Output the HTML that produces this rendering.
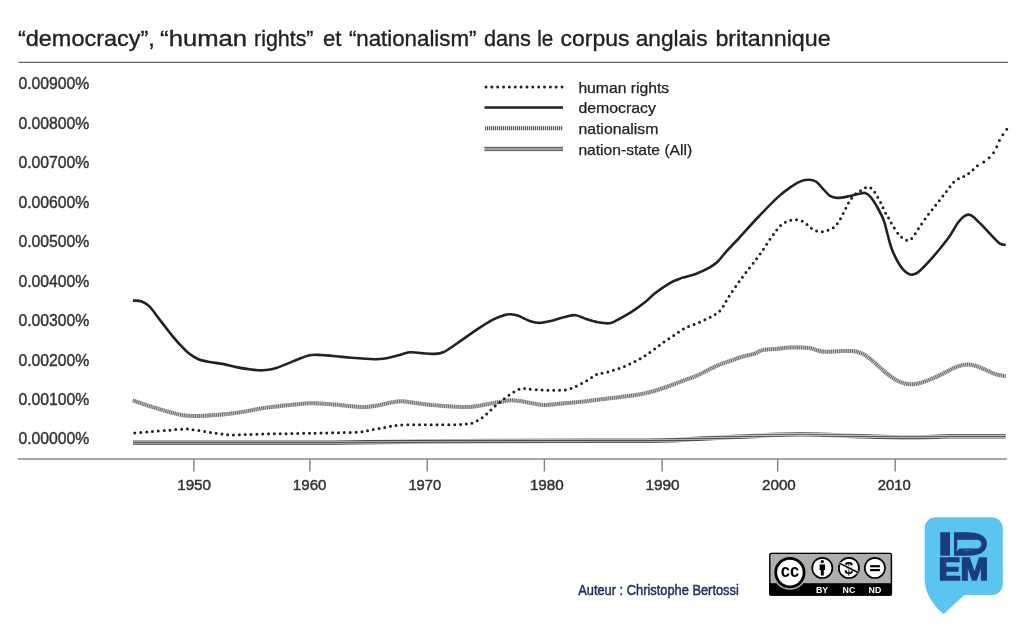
<!DOCTYPE html>
<html lang="fr"><head><meta charset="utf-8"><title>Ngram</title>
<style>
html,body{margin:0;padding:0;background:#fff;}
body{width:1023px;height:640px;overflow:hidden;font-family:"Liberation Sans",sans-serif;}
svg{display:block}
svg text{font-family:"Liberation Sans",sans-serif;}
</style></head><body>
<svg width="1023" height="640" viewBox="0 0 1023 640">
<defs><pattern id="hpat" patternUnits="userSpaceOnUse" x="0" y="1.2" width="8" height="2.1"><rect width="8" height="2.1" fill="#c4c4c4"/><rect width="8" height="1" fill="#4c4c4c"/></pattern></defs>
<rect width="1023" height="640" fill="#fff"/>
<text id="title" y="45.5" font-size="22" fill="#222" stroke="#222" stroke-width="0.35"><tspan x="18.0" textLength="136.7" lengthAdjust="spacingAndGlyphs">“democracy”,</tspan> <tspan x="160.1" textLength="86.9" lengthAdjust="spacingAndGlyphs">“human</tspan> <tspan x="254.1" textLength="59.4" lengthAdjust="spacingAndGlyphs">rights”</tspan> <tspan x="323.0" textLength="18.5" lengthAdjust="spacingAndGlyphs">et</tspan> <tspan x="348.9" textLength="127.5" lengthAdjust="spacingAndGlyphs">“nationalism”</tspan> <tspan x="483.9" textLength="47.1" lengthAdjust="spacingAndGlyphs">dans</tspan> <tspan x="537.2" textLength="16.0" lengthAdjust="spacingAndGlyphs">le</tspan> <tspan x="560.6" textLength="68.9" lengthAdjust="spacingAndGlyphs">corpus</tspan> <tspan x="635.7" textLength="71.8" lengthAdjust="spacingAndGlyphs">anglais</tspan> <tspan x="715.4" textLength="115.3" lengthAdjust="spacingAndGlyphs">britannique</tspan></text>
<line x1="18.4" y1="62.4" x2="1008" y2="62.4" stroke="#666" stroke-width="1.2"/>
<g font-size="15.6" fill="#333" stroke="#333" stroke-width="0.4" id="ylab">
<text x="18.4" y="89.2" textLength="71" lengthAdjust="spacingAndGlyphs">0.00900%</text>
<text x="18.4" y="128.7" textLength="71" lengthAdjust="spacingAndGlyphs">0.00800%</text>
<text x="18.4" y="168.1" textLength="71" lengthAdjust="spacingAndGlyphs">0.00700%</text>
<text x="18.4" y="207.6" textLength="71" lengthAdjust="spacingAndGlyphs">0.00600%</text>
<text x="18.4" y="247.1" textLength="71" lengthAdjust="spacingAndGlyphs">0.00500%</text>
<text x="18.4" y="286.6" textLength="71" lengthAdjust="spacingAndGlyphs">0.00400%</text>
<text x="18.4" y="326.0" textLength="71" lengthAdjust="spacingAndGlyphs">0.00300%</text>
<text x="18.4" y="365.5" textLength="71" lengthAdjust="spacingAndGlyphs">0.00200%</text>
<text x="18.4" y="405.0" textLength="71" lengthAdjust="spacingAndGlyphs">0.00100%</text>
<text x="18.4" y="444.4" textLength="71" lengthAdjust="spacingAndGlyphs">0.00000%</text>
</g>
<line x1="18" y1="458.9" x2="1007" y2="458.9" stroke="#8a8a8a" stroke-width="1.5"/>
<g stroke="#808080" stroke-width="1.4">
<line x1="193.9" y1="459" x2="193.9" y2="471.6" />
<line x1="309.9" y1="459" x2="309.9" y2="471.6" />
<line x1="427.2" y1="459" x2="427.2" y2="471.6" />
<line x1="544.4" y1="459" x2="544.4" y2="471.6" />
<line x1="662.1" y1="459" x2="662.1" y2="471.6" />
<line x1="777.7" y1="459" x2="777.7" y2="471.6" />
<line x1="895.2" y1="459" x2="895.2" y2="471.6" />
</g>
<g font-size="14.5" fill="#333" stroke="#333" stroke-width="0.45" id="xlab">
<text x="177.2" y="490.2" textLength="33.8" lengthAdjust="spacingAndGlyphs">1950</text>
<text x="292.8" y="490.2" textLength="33.7" lengthAdjust="spacingAndGlyphs">1960</text>
<text x="408.4" y="490.2" textLength="32.7" lengthAdjust="spacingAndGlyphs">1970</text>
<text x="529.9" y="490.2" textLength="33.9" lengthAdjust="spacingAndGlyphs">1980</text>
<text x="645.5" y="490.2" textLength="34.1" lengthAdjust="spacingAndGlyphs">1990</text>
<text x="762.0" y="490.2" textLength="33.8" lengthAdjust="spacingAndGlyphs">2000</text>
<text x="877.7" y="490.2" textLength="33.1" lengthAdjust="spacingAndGlyphs">2010</text>
</g>
<!-- series -->
<g fill="none">
<path d="M133.0,442.7C164.2,442.7 272.2,442.9 320.0,442.7C367.8,442.5 386.7,441.7 420.0,441.4C453.3,441.1 490.0,441.1 520.0,441.0C550.0,440.9 576.2,440.8 600.0,440.7C623.8,440.6 646.3,440.8 662.6,440.5C678.9,440.2 685.4,439.3 697.8,438.7C710.2,438.1 723.9,437.4 736.9,436.8C749.9,436.2 765.5,435.2 776.0,434.8C786.5,434.4 792.2,434.2 800.0,434.2C807.8,434.2 812.6,434.3 823.0,434.6C833.4,434.9 847.4,435.7 862.1,436.2C876.8,436.7 896.3,437.5 911.0,437.5C925.7,437.5 934.3,436.4 950.1,436.2C965.9,436.0 996.5,436.2 1005.8,436.2" stroke="url(#hpat)" stroke-width="4.5" transform="translate(0,0.05)"/>
<path d="M132.9,400.3C135.0,401.1 141.2,403.3 145.6,404.8C150.0,406.3 154.7,407.7 159.3,409.1C163.9,410.5 168.8,411.9 173.0,413.0C177.2,414.1 180.1,414.9 184.7,415.4C189.3,415.9 195.2,416.0 200.4,415.9C205.6,415.8 210.8,415.4 216.0,415.0C221.2,414.6 226.5,414.0 231.7,413.4C236.9,412.8 242.1,412.0 247.3,411.1C252.5,410.2 257.7,408.9 262.9,408.1C268.1,407.3 273.4,406.8 278.6,406.2C283.8,405.6 289.0,405.1 294.2,404.6C299.4,404.1 305.6,403.4 309.9,403.2C314.2,403.0 315.7,403.4 320.0,403.6C324.3,403.8 330.4,404.2 335.6,404.6C340.8,405.0 346.4,405.8 351.3,406.2C356.2,406.6 360.4,407.3 365.0,407.1C369.6,406.9 374.1,406.0 378.7,405.2C383.2,404.4 388.4,402.9 392.3,402.3C396.2,401.7 398.5,401.2 402.1,401.3C405.7,401.4 409.2,402.2 413.8,402.8C418.4,403.4 423.9,404.2 429.5,404.8C435.1,405.4 441.2,405.8 447.1,406.2C453.0,406.6 459.8,407.1 464.7,407.1C469.6,407.1 472.2,406.8 476.4,406.2C480.6,405.6 485.5,404.4 490.1,403.6C494.7,402.8 500.2,401.9 503.8,401.3C507.4,400.8 508.6,400.3 511.6,400.3C514.6,400.3 518.1,400.8 521.7,401.3C525.4,401.9 529.6,403.0 533.5,403.6C537.4,404.2 540.7,405.0 545.2,405.0C549.8,405.0 555.3,404.1 560.8,403.6C566.3,403.1 572.2,402.8 578.4,402.1C584.6,401.5 591.5,400.5 598.0,399.7C604.5,398.9 611.0,398.2 617.5,397.4C624.0,396.6 631.6,395.7 637.1,394.8C642.6,393.9 645.9,393.2 650.8,391.9C655.7,390.6 661.2,388.8 666.4,387.0C671.6,385.2 676.8,383.1 682.0,381.1C687.2,379.2 692.1,377.8 697.7,375.3C703.3,372.8 710.0,368.8 715.6,366.3C721.2,363.8 726.7,362.1 731.3,360.5C735.9,358.9 739.1,357.6 743.0,356.5C746.9,355.4 751.4,354.7 754.7,353.6C758.0,352.5 758.7,350.9 762.6,350.1C766.5,349.3 773.5,349.1 778.2,348.7C782.9,348.2 785.7,347.5 790.9,347.4C796.1,347.3 805.1,347.6 809.5,348.1C813.9,348.6 814.7,349.7 817.3,350.3C819.9,350.9 821.2,351.6 825.1,351.7C829.0,351.8 836.3,351.2 840.8,351.1C845.3,351.0 848.8,350.7 852.3,351.1C855.8,351.5 858.8,352.0 862.1,353.5C865.4,355.0 868.6,357.7 871.9,360.3C875.2,362.9 878.5,366.3 881.7,369.1C885.0,371.9 888.1,374.7 891.4,376.9C894.6,379.1 897.9,381.2 901.2,382.4C904.5,383.6 907.7,384.2 911.0,384.3C914.3,384.4 917.2,383.8 920.8,382.8C924.4,381.8 928.6,380.1 932.5,378.5C936.4,376.9 940.3,374.9 944.2,373.0C948.1,371.1 952.1,368.5 955.9,367.1C959.6,365.7 963.4,364.8 966.7,364.6C970.0,364.4 972.4,365.0 975.5,365.8C978.6,366.6 982.0,368.3 985.3,369.7C988.5,371.1 991.6,372.9 995.0,374.0C998.4,375.1 1004.0,375.9 1005.8,376.3" stroke="#cacaca" stroke-width="4"/>
<path d="M132.9,400.3C135.0,401.1 141.2,403.3 145.6,404.8C150.0,406.3 154.7,407.7 159.3,409.1C163.9,410.5 168.8,411.9 173.0,413.0C177.2,414.1 180.1,414.9 184.7,415.4C189.3,415.9 195.2,416.0 200.4,415.9C205.6,415.8 210.8,415.4 216.0,415.0C221.2,414.6 226.5,414.0 231.7,413.4C236.9,412.8 242.1,412.0 247.3,411.1C252.5,410.2 257.7,408.9 262.9,408.1C268.1,407.3 273.4,406.8 278.6,406.2C283.8,405.6 289.0,405.1 294.2,404.6C299.4,404.1 305.6,403.4 309.9,403.2C314.2,403.0 315.7,403.4 320.0,403.6C324.3,403.8 330.4,404.2 335.6,404.6C340.8,405.0 346.4,405.8 351.3,406.2C356.2,406.6 360.4,407.3 365.0,407.1C369.6,406.9 374.1,406.0 378.7,405.2C383.2,404.4 388.4,402.9 392.3,402.3C396.2,401.7 398.5,401.2 402.1,401.3C405.7,401.4 409.2,402.2 413.8,402.8C418.4,403.4 423.9,404.2 429.5,404.8C435.1,405.4 441.2,405.8 447.1,406.2C453.0,406.6 459.8,407.1 464.7,407.1C469.6,407.1 472.2,406.8 476.4,406.2C480.6,405.6 485.5,404.4 490.1,403.6C494.7,402.8 500.2,401.9 503.8,401.3C507.4,400.8 508.6,400.3 511.6,400.3C514.6,400.3 518.1,400.8 521.7,401.3C525.4,401.9 529.6,403.0 533.5,403.6C537.4,404.2 540.7,405.0 545.2,405.0C549.8,405.0 555.3,404.1 560.8,403.6C566.3,403.1 572.2,402.8 578.4,402.1C584.6,401.5 591.5,400.5 598.0,399.7C604.5,398.9 611.0,398.2 617.5,397.4C624.0,396.6 631.6,395.7 637.1,394.8C642.6,393.9 645.9,393.2 650.8,391.9C655.7,390.6 661.2,388.8 666.4,387.0C671.6,385.2 676.8,383.1 682.0,381.1C687.2,379.2 692.1,377.8 697.7,375.3C703.3,372.8 710.0,368.8 715.6,366.3C721.2,363.8 726.7,362.1 731.3,360.5C735.9,358.9 739.1,357.6 743.0,356.5C746.9,355.4 751.4,354.7 754.7,353.6C758.0,352.5 758.7,350.9 762.6,350.1C766.5,349.3 773.5,349.1 778.2,348.7C782.9,348.2 785.7,347.5 790.9,347.4C796.1,347.3 805.1,347.6 809.5,348.1C813.9,348.6 814.7,349.7 817.3,350.3C819.9,350.9 821.2,351.6 825.1,351.7C829.0,351.8 836.3,351.2 840.8,351.1C845.3,351.0 848.8,350.7 852.3,351.1C855.8,351.5 858.8,352.0 862.1,353.5C865.4,355.0 868.6,357.7 871.9,360.3C875.2,362.9 878.5,366.3 881.7,369.1C885.0,371.9 888.1,374.7 891.4,376.9C894.6,379.1 897.9,381.2 901.2,382.4C904.5,383.6 907.7,384.2 911.0,384.3C914.3,384.4 917.2,383.8 920.8,382.8C924.4,381.8 928.6,380.1 932.5,378.5C936.4,376.9 940.3,374.9 944.2,373.0C948.1,371.1 952.1,368.5 955.9,367.1C959.6,365.7 963.4,364.8 966.7,364.6C970.0,364.4 972.4,365.0 975.5,365.8C978.6,366.6 982.0,368.3 985.3,369.7C988.5,371.1 991.6,372.9 995.0,374.0C998.4,375.1 1004.0,375.9 1005.8,376.3" stroke="#666" stroke-width="4" stroke-dasharray="0.95 0.95"/>
<path d="M132.9,300.5C134.4,300.7 138.9,300.5 141.7,301.5C144.5,302.5 146.6,303.5 149.5,306.4C152.4,309.3 156.0,314.9 159.3,319.1C162.6,323.3 165.8,327.7 169.1,331.8C172.4,335.9 175.6,339.9 178.9,343.5C182.2,347.1 185.4,350.7 188.7,353.3C191.9,355.9 195.2,357.8 198.4,359.2C201.7,360.6 204.0,360.9 208.2,361.7C212.4,362.5 218.9,363.2 223.8,364.1C228.7,365.1 232.9,366.5 237.5,367.4C242.1,368.3 247.0,369.0 251.2,369.5C255.4,370.0 259.0,370.5 262.9,370.3C266.8,370.1 270.8,369.4 274.7,368.4C278.6,367.4 282.5,365.6 286.4,364.1C290.3,362.6 294.2,360.7 298.1,359.2C302.0,357.7 306.6,356.0 309.9,355.3C313.2,354.6 313.4,354.8 317.7,354.9C322.0,355.0 330.0,355.7 335.6,356.2C341.2,356.7 344.8,357.3 351.3,357.8C357.8,358.3 368.8,359.1 374.7,359.2C380.6,359.3 382.6,358.8 386.5,358.2C390.4,357.6 394.3,356.3 398.2,355.3C402.1,354.3 406.0,352.7 409.9,352.3C413.8,351.9 417.8,352.8 421.7,353.1C425.6,353.4 429.8,354.0 433.4,353.9C437.0,353.8 439.3,354.0 443.2,352.3C447.1,350.6 451.4,347.2 456.9,343.5C462.4,339.8 470.5,333.8 476.4,329.9C482.2,326.0 487.4,322.6 492.0,320.1C496.6,317.7 500.7,316.2 503.8,315.2C506.9,314.2 508.3,314.1 510.6,314.2C512.9,314.3 514.6,314.5 517.8,315.6C521.0,316.7 526.0,319.7 529.6,320.9C533.2,322.1 535.7,322.9 539.3,322.9C542.9,322.9 546.9,321.9 551.1,320.9C555.3,319.9 560.6,317.9 564.7,317.0C568.8,316.1 571.9,314.9 575.5,315.2C579.1,315.5 582.5,317.8 586.2,319.0C590.0,320.2 594.1,321.6 598.0,322.3C601.9,323.0 606.8,323.5 609.7,323.3C612.6,323.1 612.0,322.8 615.6,320.9C619.2,319.0 626.3,315.2 631.2,312.1C636.1,309.0 641.0,305.4 644.9,302.3C648.8,299.2 650.5,296.8 654.7,293.5C658.9,290.2 665.8,285.4 670.3,282.8C674.8,280.2 677.8,279.4 682.0,277.9C686.2,276.4 691.1,275.8 695.7,274.0C700.3,272.2 706.1,269.3 709.8,267.3C713.4,265.3 715.0,264.2 717.6,261.8C720.2,259.4 721.8,256.6 725.4,252.6C729.0,248.6 733.5,244.0 739.1,238.0C744.7,232.0 752.2,223.3 758.7,216.5C765.2,209.7 772.7,202.0 778.2,196.9C783.7,191.8 788.0,188.9 791.9,186.2C795.8,183.5 798.8,182.0 801.7,180.9C804.6,179.8 807.1,179.6 809.5,179.7C811.9,179.8 814.0,180.1 816.3,181.7C818.6,183.3 820.9,186.7 823.2,189.1C825.5,191.5 827.7,194.4 830.0,195.9C832.3,197.4 833.8,197.8 836.9,197.9C840.0,198.0 845.0,197.0 848.6,196.3C852.2,195.7 855.6,194.6 858.4,194.0C861.2,193.4 863.1,192.4 865.2,193.0C867.3,193.6 868.9,194.9 871.0,197.5C873.1,200.1 875.9,204.7 878.0,208.5C880.1,212.3 882.2,216.2 883.8,220.5C885.4,224.8 886.3,229.8 887.6,234.5C888.9,239.2 890.0,244.1 891.6,248.5C893.2,252.9 895.4,257.4 897.3,260.9C899.2,264.4 901.2,267.5 903.2,269.7C905.2,271.9 907.4,273.4 909.0,274.2C910.6,275.0 911.3,275.0 912.9,274.6C914.5,274.2 916.2,273.8 918.8,271.7C921.4,269.6 925.0,265.8 928.6,261.9C932.2,258.0 936.7,252.6 940.3,248.2C943.9,243.8 947.2,239.7 950.1,235.5C953.0,231.3 955.6,226.0 957.9,222.8C960.2,219.6 962.0,217.9 963.8,216.5C965.6,215.1 967.1,214.5 968.7,214.6C970.3,214.7 971.1,214.9 973.5,216.9C975.9,218.9 980.0,223.3 983.3,226.7C986.6,230.1 990.3,234.3 993.1,237.1C995.9,239.9 997.8,242.4 999.9,243.7C1002.0,245.0 1004.8,244.7 1005.8,244.9" stroke="#222" stroke-width="2.6" stroke-linejoin="round"/>
<path d="M977.40,165.70C975.55,167.08 974.12,168.87 972.60,170.20C971.08,171.53 969.77,172.67 968.30,173.70C966.83,174.73 965.30,175.62 963.80,176.40C962.30,177.18 960.93,177.48 959.30,178.40C957.67,179.32 955.53,180.55 954.00,181.90C952.47,183.25 952.05,184.02 950.10,186.50C948.15,188.98 944.92,193.42 942.30,196.80C939.68,200.18 937.02,203.45 934.40,206.80C931.78,210.15 929.20,213.35 926.60,216.90C924.00,220.45 921.15,224.67 918.80,228.10C916.45,231.53 914.30,235.45 912.50,237.50C910.70,239.55 909.55,240.25 908.00,240.40C906.45,240.55 904.80,239.45 903.20,238.40C901.60,237.35 900.17,236.28 898.40,234.10C896.63,231.92 894.22,227.92 892.60,225.30C890.98,222.68 890.00,220.68 888.70,218.40C887.40,216.12 886.12,214.20 884.80,211.60C883.48,209.00 882.12,205.42 880.80,202.80C879.48,200.18 878.20,198.02 876.90,195.90C875.60,193.78 874.47,191.62 873.00,190.10C871.53,188.58 869.73,186.97 868.10,186.80C866.47,186.63 864.82,188.23 863.20,189.10C861.58,189.97 860.02,190.87 858.40,192.00C856.78,193.13 855.13,194.10 853.50,195.90C851.87,197.70 850.40,199.70 848.60,202.80C846.80,205.90 844.40,211.25 842.70,214.50C841.00,217.75 839.87,220.18 838.40,222.30C836.93,224.42 835.62,225.88 833.90,227.20C832.18,228.52 830.15,229.45 828.10,230.20C826.05,230.95 823.73,231.65 821.60,231.70C819.47,231.75 817.32,231.32 815.30,230.50C813.28,229.68 811.28,228.17 809.50,226.80C807.72,225.43 806.55,223.47 804.60,222.30C802.65,221.13 799.92,220.18 797.80,219.80C795.68,219.42 793.87,219.65 791.90,220.00C789.93,220.35 787.95,220.92 786.00,221.90C784.05,222.88 782.48,223.55 780.20,225.90C777.92,228.25 775.63,231.33 772.30,236.00C768.97,240.67 763.45,249.28 760.20,253.90C756.95,258.52 755.27,260.50 752.80,263.70C750.33,266.90 747.75,270.00 745.40,273.10C743.05,276.20 740.88,279.25 738.70,282.30C736.52,285.35 733.93,289.03 732.30,291.40C730.67,293.77 729.98,294.77 728.90,296.50C727.82,298.23 726.77,300.10 725.80,301.80C724.83,303.50 724.13,305.13 723.10,306.70C722.07,308.27 721.00,309.83 719.60,311.20C718.20,312.57 716.33,313.87 714.70,314.90C713.07,315.93 712.63,316.03 709.80,317.40C706.97,318.77 701.83,321.33 697.70,323.10C693.57,324.87 688.92,325.98 685.00,328.00C681.08,330.02 677.72,332.87 674.20,335.20C670.68,337.53 667.38,339.55 663.90,342.00C660.42,344.45 656.80,347.38 653.30,349.90C649.80,352.42 646.42,354.93 642.90,357.10C639.38,359.27 635.85,361.12 632.20,362.90C628.55,364.68 624.75,366.38 621.00,367.80C617.25,369.22 613.28,370.38 609.70,371.40C606.12,372.42 602.03,373.25 599.50,373.90C596.97,374.55 596.22,374.42 594.50,375.30C592.78,376.18 591.07,377.97 589.20,379.20C587.33,380.43 585.27,381.63 583.30,382.70C581.33,383.77 579.35,384.65 577.40,385.60C575.45,386.55 573.62,387.68 571.60,388.40C569.58,389.12 568.40,389.58 565.30,389.90C562.20,390.22 557.17,390.30 553.00,390.30C548.83,390.30 544.47,390.12 540.30,389.90C536.13,389.68 531.10,389.25 528.00,389.00C524.90,388.75 523.72,388.08 521.70,388.40C519.68,388.72 517.75,389.97 515.90,390.90C514.05,391.83 512.47,392.77 510.60,394.00C508.73,395.23 506.48,396.92 504.70,398.30C502.92,399.68 501.52,400.98 499.90,402.30C498.28,403.62 496.63,404.80 495.00,406.20C493.37,407.60 491.73,409.17 490.10,410.70C488.47,412.23 486.83,414.03 485.20,415.40C483.57,416.77 482.10,417.77 480.30,418.90C478.50,420.03 476.35,421.38 474.40,422.20C472.45,423.02 471.52,423.38 468.60,423.80C465.68,424.22 462.12,424.55 456.90,424.70C451.68,424.85 443.82,424.70 437.30,424.70C430.78,424.70 424.32,424.60 417.80,424.70C411.28,424.80 403.58,424.87 398.20,425.30C392.82,425.73 389.73,426.58 385.50,427.30C381.27,428.02 377.20,428.82 372.80,429.60C368.40,430.38 364.63,431.50 359.10,432.00C353.57,432.50 345.95,432.42 339.60,432.60C333.25,432.78 326.60,432.98 321.00,433.10C315.40,433.22 311.77,433.20 306.00,433.30C300.23,433.40 292.92,433.60 286.40,433.70C279.88,433.80 273.42,433.77 266.90,433.90C260.38,434.03 253.33,434.33 247.30,434.50C241.27,434.67 235.58,435.07 230.70,434.90C225.82,434.73 222.23,434.05 218.00,433.50C213.77,432.95 209.53,432.25 205.30,431.60C201.07,430.95 195.70,430.03 192.60,429.60C189.50,429.17 188.67,429.07 186.70,429.00C184.73,428.93 183.73,429.00 180.80,429.20C177.87,429.40 173.98,429.80 169.10,430.20C164.22,430.60 157.37,431.13 151.50,431.60C145.63,432.07 136.83,432.77 133.90,433.00" stroke="#222" stroke-width="3" stroke-linecap="round" stroke-dasharray="0 5.8309"/>
<path d="M983.70,161.90C985.67,160.58 987.57,159.30 989.20,157.80C990.83,156.30 992.27,154.68 993.50,152.90C994.73,151.12 995.63,149.12 996.60,147.10C997.57,145.08 998.25,142.88 999.30,140.80C1000.35,138.72 1001.65,136.55 1002.90,134.60C1004.15,132.65 1006.15,130.02 1006.80,129.10" stroke="#222" stroke-width="3" stroke-linecap="round" stroke-dasharray="0 6.763"/>
</g>
<!-- legend -->
<g fill="none">
<line x1="486" y1="87.1" x2="563" y2="87.1" stroke="#222" stroke-width="3" stroke-linecap="round" stroke-dasharray="0 5.85"/>
<line x1="484.5" y1="107.5" x2="563" y2="107.5" stroke="#222" stroke-width="2.6"/>
<line x1="485" y1="128.2" x2="563" y2="128.2" stroke="#dcdcdc" stroke-width="4"/>
<line x1="485" y1="128.2" x2="563" y2="128.2" stroke="#555" stroke-width="4" stroke-dasharray="1 1"/>
<line x1="484.5" y1="149" x2="563" y2="149" stroke="#aaa" stroke-width="4.4"/>
<line x1="484.5" y1="147.5" x2="563" y2="147.5" stroke="#5a5a5a" stroke-width="1"/>
<line x1="484.5" y1="150.3" x2="563" y2="150.3" stroke="#5a5a5a" stroke-width="1"/>
</g>
<g font-size="14.8" fill="#222" stroke="#222" stroke-width="0.25" id="legend">
<text x="578.4" y="92.8" textLength="90.8" lengthAdjust="spacingAndGlyphs">human rights</text>
<text x="578.4" y="113.4" textLength="77.6" lengthAdjust="spacingAndGlyphs">democracy</text>
<text x="578.4" y="133.8" textLength="80" lengthAdjust="spacingAndGlyphs">nationalism</text>
<text x="578.4" y="154.5" textLength="113.8" lengthAdjust="spacingAndGlyphs">nation-state (All)</text>
</g>
<!-- author -->
<text id="author" x="578.2" y="594.6" font-size="15.2" fill="#1c3160" stroke="#1c3160" stroke-width="0.5" textLength="160.6" lengthAdjust="spacingAndGlyphs">Auteur : Christophe Bertossi</text>
<g id="cc">
<clipPath id="ccclip"><rect x="769.1" y="552.7" width="123" height="43" rx="2"/></clipPath>
<rect x="769.1" y="552.7" width="123" height="43" rx="2" fill="#abb1aa"/>
<g clip-path="url(#ccclip)">
<rect x="769.1" y="583.2" width="123" height="12.5" fill="#000"/>
<circle cx="789.9" cy="572.6" r="17.2" fill="#abb1aa"/>
</g>
<rect x="769.8" y="553.4" width="121.6" height="41.6" rx="1.6" fill="none" stroke="#000" stroke-width="1.4"/>
<circle cx="789.9" cy="572.6" r="14.2" fill="#fff" stroke="#000" stroke-width="2.8"/>
<text x="780.7" y="577.4" font-size="18.4" font-weight="bold" fill="#000" textLength="18.4" lengthAdjust="spacingAndGlyphs">cc</text>
<g fill="#fff" stroke="#000" stroke-width="1.7">
<circle cx="822.3" cy="567.9" r="10.1"/>
<circle cx="848.9" cy="567.9" r="10.1"/>
<circle cx="874.9" cy="567.9" r="10.1"/>
</g>
<!-- BY person -->
<circle cx="822.3" cy="561.6" r="1.7" fill="#000"/>
<path d="M819.6,564.4h5.4v5.6h-1.2v5.6h-3v-5.6h-1.2z" fill="#000"/>
<!-- NC -->
<text x="848.9" y="573.6" font-size="16.5" font-weight="bold" fill="#000" text-anchor="middle">$</text>
<line x1="839.8" y1="563.3" x2="858" y2="572.5" stroke="#fff" stroke-width="2.9"/>
<line x1="839.8" y1="563.3" x2="858" y2="572.5" stroke="#000" stroke-width="1.5"/>
<!-- ND -->
<rect x="870.1" y="565.1" width="9.8" height="2.2" fill="#000"/>
<rect x="870.1" y="569" width="9.8" height="2.2" fill="#000"/>
<g font-size="8.8" font-weight="bold" fill="#fff" text-anchor="middle">
<text x="822.1" y="592.7">BY</text>
<text x="848.9" y="592.7">NC</text>
<text x="874.9" y="592.7">ND</text>
</g>
</g>
<g id="idem">
<path d="M935.6,517.2H991.8a11,11 0 0 1 11,11V584a11,11 0 0 1 -11,11H964.3L943.7,614.1C938,610 930.5,601 927.3,592.5C925.2,587 924.6,583 924.6,578V528.2a11,11 0 0 1 11,-11z" fill="#5bc4f1"/>
<g font-weight="bold" fill="#1b3d7b" stroke="#1b3d7b" stroke-width="1.6" stroke-linejoin="miter" font-size="30.6">
<text x="938.2" y="554.7" textLength="49.5" lengthAdjust="spacingAndGlyphs">ID</text>
<text x="938.4" y="580.3" textLength="50" lengthAdjust="spacingAndGlyphs">EM</text>
</g>
<rect x="956" y="536" width="21" height="14.5" fill="#1b3d7b"/>
<path d="M957.2,539.7H977A4.4,4.4 0 0 1 977,548.5H959.6L955.9,551.8L957.2,548.5Z" fill="#5bc4f1"/>
</g>
</svg>
</body></html>
